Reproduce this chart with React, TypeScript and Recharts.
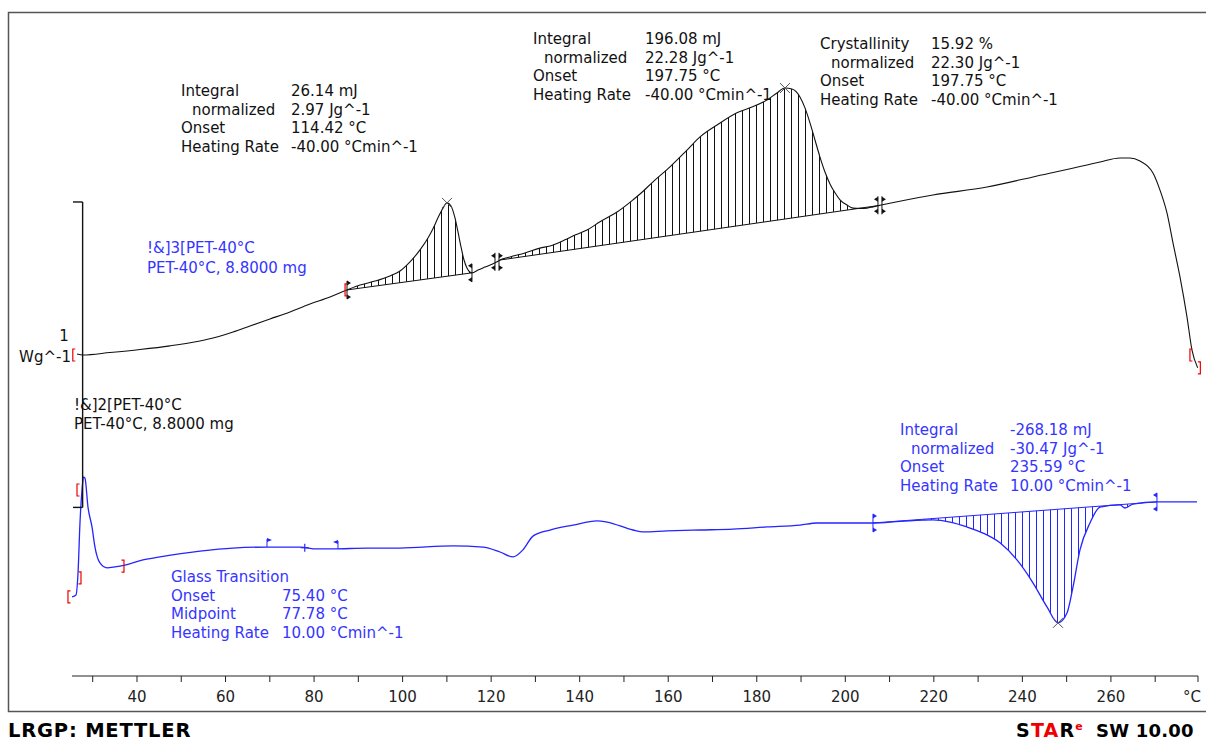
import React from 'react';
import {
  ComposedChart,
  Line,
  Area,
  XAxis,
  YAxis,
  ReferenceLine,
  ReferenceDot,
} from 'recharts';

// cooling run (black), -40 °C/min, heat flow in W/g (shifted on the plot)
const coolTemp = [
  26.45, 27.8, 33.9, 40.68, 47.45, 54.23, 57.62, 61.69, 65.53, 70.04,
  74.56, 79.08, 83.6, 87.44, 90.37, 93.76, 97.15, 99.41, 101.67, 103.93,
  105.73, 106.86, 107.99, 109.12, 110.03, 110.93, 111.83, 112.51, 113.19, 113.87,
  114.54, 115.67, 117.03, 118.61, 121.32, 122.0, 124.26, 127.64, 131.03, 133.29,
  136.68, 138.94, 141.65, 144.59, 148.43, 152.04, 153.63, 156.56, 160.4, 164.24,
  167.18, 171.02, 175.53, 178.92, 182.31, 184.57, 186.37, 187.95, 189.76, 190.89,
  192.02, 193.15, 194.28, 195.41, 196.54, 197.67, 198.8, 200.38, 201.74, 203.32,
  204.9, 206.25, 207.83, 219.81, 232.0, 242.39, 254.59, 257.53, 262.05, 264.31,
  266.56, 269.5, 271.08, 272.66, 274.02, 275.6, 277.18, 278.31, 279.6,
];
const coolHeat = [
  1.054, 1.051, 1.059, 1.069, 1.081, 1.097, 1.108, 1.126, 1.146, 1.169,
  1.192, 1.218, 1.241, 1.264, 1.28, 1.293, 1.31, 1.326, 1.356, 1.395,
  1.434, 1.464, 1.5, 1.532, 1.549, 1.539, 1.5, 1.454, 1.405, 1.362,
  1.336, 1.32, 1.329, 1.339, 1.356, 1.362, 1.372, 1.385, 1.401, 1.408,
  1.428, 1.444, 1.46, 1.487, 1.519, 1.559, 1.578, 1.618, 1.667, 1.722,
  1.765, 1.804, 1.844, 1.863, 1.886, 1.909, 1.925, 1.922, 1.896, 1.86,
  1.811, 1.755, 1.699, 1.65, 1.611, 1.582, 1.559, 1.542, 1.532, 1.531,
  1.532, 1.536, 1.541, 1.575, 1.601, 1.634, 1.673, 1.683, 1.696, 1.696,
  1.686, 1.647, 1.591, 1.516, 1.418, 1.307, 1.176, 1.067, 1.009,
];

// heating run (blue), 10 °C/min
const heatTemp = [
  25.32, 26.22, 26.68, 27.12, 27.58, 27.92, 28.25, 28.93, 29.84, 30.51,
  31.64, 33.22, 35.03, 37.29, 41.36, 45.2, 54.23, 61.69, 69.37, 76.82,
  80.66, 84.27, 91.95, 99.41, 111.38, 118.16, 122.0, 124.93, 127.19, 129.45,
  133.29, 138.49, 143.91, 146.17, 152.04, 154.3, 159.72, 167.18, 174.63, 182.31,
  189.76, 193.6, 198.8, 206.25, 212.35, 219.81, 223.65, 227.49, 231.1, 234.94,
  238.78, 242.39, 245.56, 248.04, 250.08, 251.43, 253.01, 255.27, 257.53, 262.05,
  263.18, 264.98, 270.4, 279.44,
];
const heatHeat = [
  0.259, 0.265, 0.337, 0.501, 0.609, 0.652, 0.648, 0.553, 0.488, 0.422,
  0.37, 0.354, 0.357, 0.363, 0.38, 0.39, 0.409, 0.419, 0.422, 0.422,
  0.416, 0.416, 0.419, 0.419, 0.426, 0.422, 0.406, 0.39, 0.413, 0.458,
  0.478, 0.494, 0.508, 0.504, 0.478, 0.472, 0.475, 0.478, 0.481, 0.488,
  0.494, 0.501, 0.501, 0.501, 0.506, 0.511, 0.504, 0.488, 0.468, 0.436,
  0.38, 0.305, 0.226, 0.174, 0.206, 0.291, 0.413, 0.501, 0.553, 0.56,
  0.55, 0.563, 0.57, 0.57,
];

// integration limits [°C, W/g]; the baseline is the straight line between them
const coolPeak1Limits = [[87.44, 1.264], [115.67, 1.32]];
const coolPeak2Limits = [[122.0, 1.362], [207.83, 1.541]];
const heatPeakLimits = [[206.25, 0.501], [270.4, 0.57]];

// evaluation marks [°C, W/g, kind]
const coolPeakTops = [[110.03, 1.549], [186.37, 1.925]];
const heatPeakTops = [[248.04, 0.174]];
const coolLimitMarks = [
  [87.44, 1.264, 'start'],
  [115.67, 1.32, 'end'],
  [121.32, 1.356, 'both'],
  [207.83, 1.541, 'both'],
];
const heatLimitMarks = [
  [206.25, 0.501, 'start'],
  [270.4, 0.57, 'end'],
];
const glassMarks = [
  [69.37, 0.422, 'flagR'],
  [77.9, 0.42, 'cross'],
  [85.4, 0.416, 'flagL'],
];
const rangeBrackets = [
  [25.5, 1.051, '['],
  [87.0, 1.264, '['],
  [277.85, 1.051, '['],
  [280.2, 1.009, ']'],
  [26.45, 0.609, '['],
  [27.35, 0.321, ']'],
  [24.41, 0.259, '['],
  [37.06, 0.36, ']'],
];

// 1 W/g scale bar
const scaleBarT = 27.72;
const scaleTickT = 25.54;
const scaleBarLow = 0.552;
const scaleBarHigh = 1.552;

const xTicks = [30, 40, 50, 60, 70, 80, 90, 100, 110, 120, 130, 140, 150, 160, 170, 180, 190, 200, 210, 220, 230, 240, 250, 260, 270, 279.67];
const xDomain = [25.32, 279.67];
const yDomain = [0, 2.174];

const FONT = "'DejaVu Sans', Verdana, sans-serif";
const BLACK = '#111';
const BLUE_LINE = '#2424ff';
const BLUE_TEXT = '#3535ff';

const toPoints = (temps: number[], heats: number[]) =>
  temps.map((t, i) => ({ t, w: heats[i] }));

const bandBetween = (points: { t: number; w: number }[], limits: number[][]) => {
  const [[t0, w0], [t1, w1]] = limits;
  return points
    .filter((p) => p.t >= t0 && p.t <= t1)
    .map((p) => ({ t: p.t, band: [w0 + ((w1 - w0) * (p.t - t0)) / (t1 - t0), p.w] }));
};

const limitLine = (limits: number[][]) => limits.map(([t, w]) => ({ t, w }));

const coolData = toPoints(coolTemp, coolHeat);
const heatData = toPoints(heatTemp, heatHeat);

const tri = (x: number, y: number, dir: 'l' | 'r', color: string) => (
  <polygon
    points={`${x},${y - 2.5} ${dir === 'r' ? x + 4 : x - 4},${y} ${x},${y + 2.5}`}
    fill={color}
  />
);

const markShape = (kind: string, color: string) => (props: any) => {
  const { cx, cy } = props;
  if (cx == null || cy == null) return <g />;
  switch (kind) {
    case 'x':
      return (
        <g stroke="#555" strokeWidth={1}>
          <line x1={cx - 5} y1={cy - 5} x2={cx + 5} y2={cy + 5} />
          <line x1={cx - 5} y1={cy + 5} x2={cx + 5} y2={cy - 5} />
        </g>
      );
    case 'start':
    case 'end': {
      const dir = kind === 'start' ? 'r' : 'l';
      return (
        <g>
          <line x1={cx} y1={cy - 9} x2={cx} y2={cy + 9} stroke={color} strokeWidth={1} />
          {tri(cx, cy - 7, dir, color)}
          {tri(cx, cy + 7, dir, color)}
        </g>
      );
    }
    case 'both':
      return (
        <g>
          <line x1={cx - 2} y1={cy - 9} x2={cx - 2} y2={cy + 9} stroke={color} strokeWidth={1} />
          <line x1={cx + 2} y1={cy - 9} x2={cx + 2} y2={cy + 9} stroke={color} strokeWidth={1} />
          {tri(cx - 2, cy - 6, 'l', color)}
          {tri(cx + 2, cy - 6, 'r', color)}
          {tri(cx - 2, cy + 6, 'l', color)}
          {tri(cx + 2, cy + 6, 'r', color)}
        </g>
      );
    case 'flagR':
    case 'flagL': {
      const s = kind === 'flagR' ? 1 : -1;
      return (
        <g>
          <line x1={cx} y1={cy} x2={cx} y2={cy - 8} stroke={color} strokeWidth={1} />
          <polygon points={`${cx},${cy - 9} ${cx + 5 * s},${cy - 7} ${cx},${cy - 5}`} fill={color} />
        </g>
      );
    }
    case 'cross':
      return (
        <g stroke={color} strokeWidth={1.2}>
          <line x1={cx - 4} y1={cy} x2={cx + 4} y2={cy} />
          <line x1={cx} y1={cy - 4} x2={cx} y2={cy + 4} />
        </g>
      );
    case '[':
      return <path d={`M${cx + 2.5},${cy - 6} H${cx} V${cy + 6} H${cx + 2.5}`} stroke="#e00" strokeWidth={1.2} fill="none" />;
    case ']':
      return <path d={`M${cx - 2.5},${cy - 6} H${cx} V${cy + 6} H${cx - 2.5}`} stroke="#e00" strokeWidth={1.2} fill="none" />;
    default:
      return <g />;
  }
};

const AxisTick = (props: any) => {
  const { x, y, payload } = props;
  const v = payload.value;
  const last = v === xTicks[xTicks.length - 1];
  let label = '';
  if (last) label = '°C';
  else if (v % 20 === 0) label = String(v);
  return (
    <text
      x={last ? x + 3 : x}
      y={y + 18}
      textAnchor={last ? 'end' : 'middle'}
      fontFamily={FONT}
      fontSize={15}
      fill="#222"
    >
      {label}
    </text>
  );
};

interface InfoRow {
  label: string;
  value: string;
  indent?: boolean;
}

function InfoBlock({ x, valueX, y, rows, color }: { x: number; valueX: number; y: number; rows: InfoRow[]; color: string }) {
  return (
    <g fontFamily={FONT} fontSize={15} fill={color}>
      {rows.map((r, i) => (
        <g key={r.label + i}>
          <text x={r.indent ? x + 11 : x} y={y + i * 18.7}>{r.label}</text>
          <text x={valueX} y={y + i * 18.7}>{r.value}</text>
        </g>
      ))}
    </g>
  );
}

export default function App() {
  return (
    <div style={{ position: 'absolute', left: 0, top: 0, width: 1206, height: 742, overflow: 'hidden', background: '#fff' }}>
      <ComposedChart width={1206} height={742} margin={{ top: 12, right: 8, bottom: 36, left: 72 }}>
        <defs>
          <pattern id="hatchCool" patternUnits="userSpaceOnUse" width={7} height={8}>
            <line x1={0.5} y1={0} x2={0.5} y2={8} stroke={BLACK} strokeWidth={1} />
          </pattern>
          <pattern id="hatchHeat" patternUnits="userSpaceOnUse" width={7} height={8}>
            <line x1={0.5} y1={0} x2={0.5} y2={8} stroke={BLUE_LINE} strokeWidth={1} />
          </pattern>
        </defs>
        <XAxis
          type="number"
          dataKey="t"
          domain={xDomain}
          ticks={xTicks}
          interval={0}
          allowDataOverflow
          height={30}
          tickSize={6}
          stroke="#222"
          tick={<AxisTick />}
        />
        <YAxis type="number" domain={yDomain} allowDataOverflow hide />

        <Area data={bandBetween(coolData, coolPeak1Limits)} dataKey="band" type="monotone" stroke="none" fill="url(#hatchCool)" fillOpacity={1} isAnimationActive={false} />
        <Area data={bandBetween(coolData, coolPeak2Limits)} dataKey="band" type="monotone" stroke="none" fill="url(#hatchCool)" fillOpacity={1} isAnimationActive={false} />
        <Area data={bandBetween(heatData, heatPeakLimits)} dataKey="band" type="monotone" stroke="none" fill="url(#hatchHeat)" fillOpacity={1} isAnimationActive={false} />

        <Line data={limitLine(coolPeak1Limits)} dataKey="w" type="linear" stroke={BLACK} strokeWidth={1} dot={false} isAnimationActive={false} />
        <Line data={limitLine(coolPeak2Limits)} dataKey="w" type="linear" stroke={BLACK} strokeWidth={1} dot={false} isAnimationActive={false} />
        <Line data={limitLine(heatPeakLimits)} dataKey="w" type="linear" stroke={BLUE_LINE} strokeWidth={1} dot={false} isAnimationActive={false} />

        <Line data={coolData} dataKey="w" type="monotone" stroke={BLACK} strokeWidth={1.1} dot={false} isAnimationActive={false} />
        <Line data={heatData} dataKey="w" type="monotone" stroke={BLUE_LINE} strokeWidth={1.3} dot={false} isAnimationActive={false} />

        <ReferenceLine segment={[{ x: scaleBarT, y: scaleBarLow }, { x: scaleBarT, y: scaleBarHigh }]} stroke={BLACK} strokeWidth={1.4} />
        <ReferenceLine segment={[{ x: scaleTickT, y: scaleBarHigh }, { x: scaleBarT, y: scaleBarHigh }]} stroke={BLACK} strokeWidth={1.4} />
        <ReferenceLine segment={[{ x: scaleTickT, y: scaleBarLow }, { x: scaleBarT, y: scaleBarLow }]} stroke={BLACK} strokeWidth={1.4} />

        {coolPeakTops.map(([t, w], i) => (
          <ReferenceDot key={'cpt' + i} x={t} y={w} r={4} ifOverflow="visible" shape={markShape('x', BLACK)} />
        ))}
        {heatPeakTops.map(([t, w], i) => (
          <ReferenceDot key={'hpt' + i} x={t} y={w} r={4} ifOverflow="visible" shape={markShape('x', BLUE_LINE)} />
        ))}
        {coolLimitMarks.map(([t, w, k], i) => (
          <ReferenceDot key={'clm' + i} x={t as number} y={w as number} r={4} ifOverflow="visible" shape={markShape(k as string, BLACK)} />
        ))}
        {heatLimitMarks.map(([t, w, k], i) => (
          <ReferenceDot key={'hlm' + i} x={t as number} y={w as number} r={4} ifOverflow="visible" shape={markShape(k as string, BLUE_LINE)} />
        ))}
        {glassMarks.map(([t, w, k], i) => (
          <ReferenceDot key={'gm' + i} x={t as number} y={w as number} r={4} ifOverflow="visible" shape={markShape(k as string, BLUE_LINE)} />
        ))}
        {rangeBrackets.map(([t, w, k], i) => (
          <ReferenceDot key={'rb' + i} x={t as number} y={w as number} r={4} ifOverflow="visible" shape={markShape(k as string, '#e00')} />
        ))}
      </ComposedChart>

      <svg width={1206} height={742} style={{ position: 'absolute', left: 0, top: 0, pointerEvents: 'none' }}>
        <rect x={8.5} y={12.5} width={1260} height={699} fill="none" stroke="#555" strokeWidth={1.5} />

        <InfoBlock
          x={181}
          valueX={291}
          y={96}
          color={BLACK}
          rows={[
            { label: 'Integral', value: '26.14 mJ' },
            { label: 'normalized', value: '2.97 Jg^-1', indent: true },
            { label: 'Onset', value: '114.42 °C' },
            { label: 'Heating Rate', value: '-40.00 °Cmin^-1' },
          ]}
        />
        <InfoBlock
          x={533}
          valueX={645}
          y={44}
          color={BLACK}
          rows={[
            { label: 'Integral', value: '196.08 mJ' },
            { label: 'normalized', value: '22.28 Jg^-1', indent: true },
            { label: 'Onset', value: '197.75 °C' },
            { label: 'Heating Rate', value: '-40.00 °Cmin^-1' },
          ]}
        />
        <InfoBlock
          x={820}
          valueX={931}
          y={49}
          color={BLACK}
          rows={[
            { label: 'Crystallinity', value: '15.92 %' },
            { label: 'normalized', value: '22.30 Jg^-1', indent: true },
            { label: 'Onset', value: '197.75 °C' },
            { label: 'Heating Rate', value: '-40.00 °Cmin^-1' },
          ]}
        />
        <InfoBlock
          x={900}
          valueX={1010}
          y={435}
          color={BLUE_TEXT}
          rows={[
            { label: 'Integral', value: '-268.18 mJ' },
            { label: 'normalized', value: '-30.47 Jg^-1', indent: true },
            { label: 'Onset', value: '235.59 °C' },
            { label: 'Heating Rate', value: '10.00 °Cmin^-1' },
          ]}
        />
        <InfoBlock
          x={171}
          valueX={282}
          y={582}
          color={BLUE_TEXT}
          rows={[
            { label: 'Glass Transition', value: '' },
            { label: 'Onset', value: '75.40 °C' },
            { label: 'Midpoint', value: '77.78 °C' },
            { label: 'Heating Rate', value: '10.00 °Cmin^-1' },
          ]}
        />

        <g fontFamily={FONT} fontSize={15}>
          <text x={147} y={253} fill={BLUE_TEXT}>!&amp;]3[PET-40°C</text>
          <text x={147} y={273} fill={BLUE_TEXT}>PET-40°C, 8.8000 mg</text>
          <text x={74} y={410} fill={BLACK}>!&amp;]2[PET-40°C</text>
          <text x={74} y={429} fill={BLACK}>PET-40°C, 8.8000 mg</text>
          <text x={64} y={341} fill={BLACK} textAnchor="middle">1</text>
          <text x={71} y={362} fill={BLACK} textAnchor="end">Wg^-1</text>
        </g>

        <text x={8} y={737} fontFamily="'DejaVu Sans', sans-serif" fontWeight="bold" fontSize={19.5} letterSpacing={0.8} fill="#000">
          LRGP: METTLER
        </text>
        <text x={1016} y={737} fontFamily="'DejaVu Sans', sans-serif" fontWeight="bold" fontSize={19} letterSpacing={1.2}>
          <tspan fill="#000">S</tspan>
          <tspan fill="#e00">TA</tspan>
          <tspan fill="#000">R</tspan>
          <tspan fill="#e00" fontSize={11} dy={-7}>e</tspan>
          <tspan fill="#000" x={1096} dy={7} fontSize={18} letterSpacing={0.2}>SW 10.00</tspan>
        </text>
      </svg>
    </div>
  );
}
